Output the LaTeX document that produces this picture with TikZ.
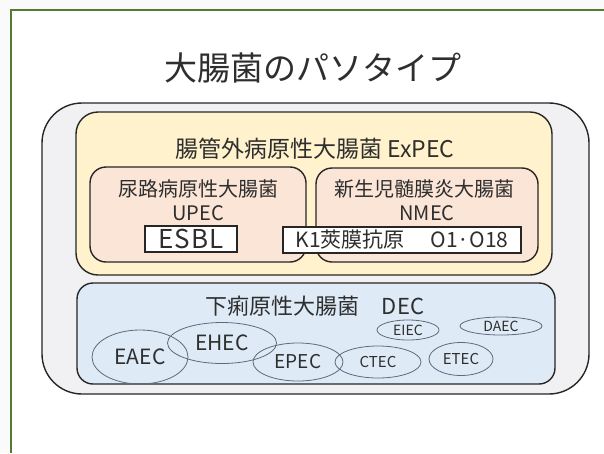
\documentclass[tikz,border=0pt]{standalone}
\usepackage{fontspec}
\setmainfont{Noto Sans CJK JP}
\usetikzlibrary{shapes.geometric}
\definecolor{frameGreen}{HTML}{557A33}
\definecolor{outerFill}{HTML}{F1F1F3}
\definecolor{yellowFill}{HTML}{FFF2CC}
\definecolor{peachFill}{HTML}{FBE5D6}
\definecolor{blueFill}{HTML}{DEEBF7}
\definecolor{ellLine}{HTML}{5F6B78}
\definecolor{txt}{HTML}{2E2E2E}
\newcommand{\fs}[1]{\fontsize{#1}{#1}\selectfont}
\begin{document}
\begin{tikzpicture}[x=1pt,y=-1pt,
  container/.style={draw=black!85,line width=1.4pt},
  labelbox/.style={draw=black!85,line width=1.2pt,fill=white,inner sep=0pt,anchor=center,text=txt},
  ell/.style={ellipse,draw=ellLine,line width=0.8pt,inner sep=0pt,text=txt},
  lbl/.style={text=txt,inner sep=0pt,anchor=center}]
\useasboundingbox (0,0) rectangle (604,453);
\fill[white!98!black] (0,0) rectangle (604,453);
\fill[white] (11,10) rectangle (604,453);
\draw[frameGreen,line width=1.6pt] (11,453) -- (11,10) -- (604,10);
% title
\node[lbl] (title) at (313,68) {\fs{33}大腸菌のパソタイプ};
% outer gray box
\draw[container,fill=outerFill,rounded corners=40pt] (42,103) rectangle (589,394);
% yellow box
\draw[container,fill=yellowFill,rounded corners=22pt] (76,112) rectangle (552,275);
\node[lbl] (expec) at (315,149) {\fs{23}腸管外病原性大腸菌 ExPEC};
% UPEC
\draw[container,fill=peachFill,rounded corners=16pt] (90,167) rectangle (306,262);
\node[lbl] (upecj) at (198,189) {\fs{20}尿路病原性大腸菌};
\node[lbl] (upec) at (198,213) {\fs{20}UPEC};
% NMEC
\draw[container,fill=peachFill,rounded corners=16pt] (316,168) rectangle (538,262);
\node[lbl] (nmecj) at (424,189) {\fs{20}新生児髄膜炎大腸菌};
\node[lbl] (nmec) at (427,213) {\fs{20}NMEC};
% ESBL box
\node[labelbox,minimum width=92pt,minimum height=26pt] (esbl) at (191,239) {\fs{26}\addfontfeatures{LetterSpace=4}ESBL};
% K1 box
\node[labelbox,minimum width=238pt,minimum height=26pt] (k1) at (402,240) {\fs{21}K1莢膜抗原　\ O1·O18};
% blue box
\draw[container,fill=blueFill,rounded corners=16pt] (77,283) rectangle (555,384);
\node[lbl] (dec) at (315,306) {\fs{22}下痢原性大腸菌　DEC};
% ellipses
\node[ell,minimum width=96pt,minimum height=54pt] (eaec) at (140,357) {\fs{21}EAEC};
\node[ell,minimum width=109pt,minimum height=41pt] (ehec) at (222,343) {\fs{21}EHEC};
\node[ell,minimum width=90pt,minimum height=38pt] (epec) at (298,362) {\fs{19}EPEC};
\node[ell,minimum width=86pt,minimum height=32pt] (ctec) at (378,362) {\fs{15}CTEC};
\node[ell,minimum width=64pt,minimum height=33pt] (etec) at (461,359) {\fs{15}ETEC};
\node[ell,minimum width=62pt,minimum height=20pt] (eiec) at (408,330) {\fs{14}EIEC};
\node[ell,minimum width=82pt,minimum height=18pt] (daec) at (501,326) {\fs{14}DAEC};
\end{tikzpicture}
\end{document}
